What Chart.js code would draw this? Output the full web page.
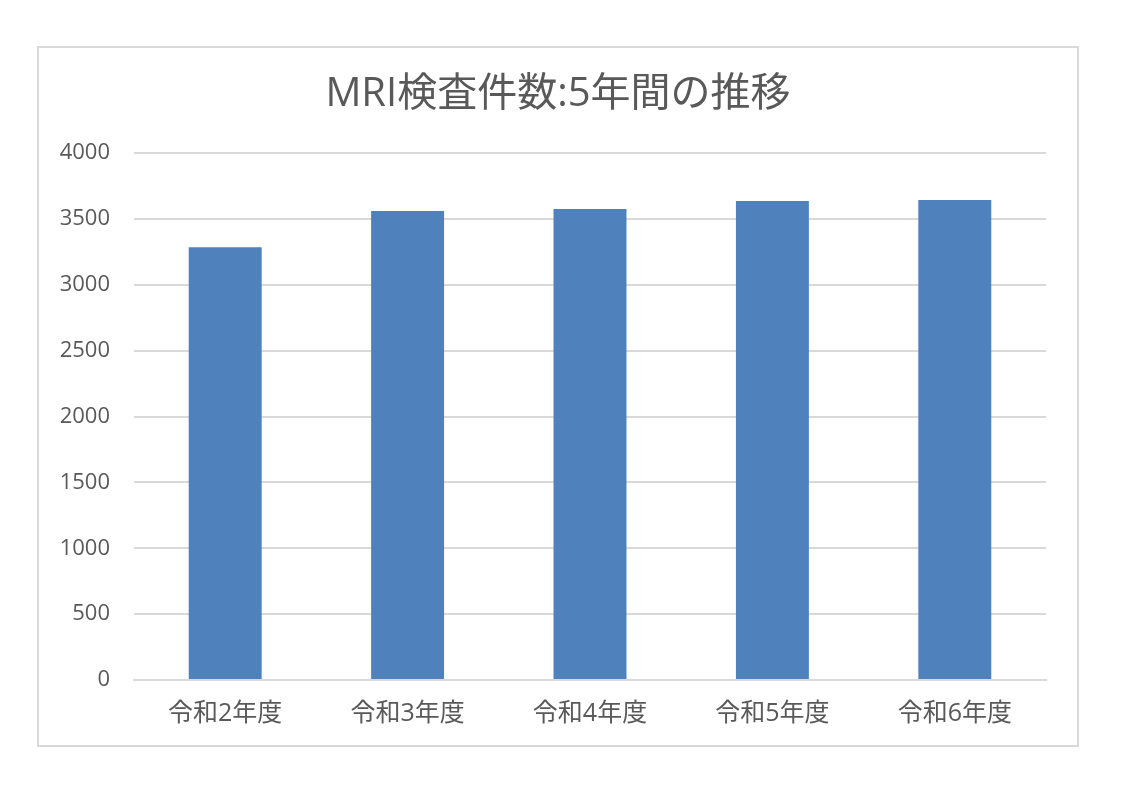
<!DOCTYPE html>
<html>
<head>
<meta charset="utf-8">
<script src="https://cdn.jsdelivr.net/npm/chart.js@4"></script>
<style>
  html, body { margin: 0; padding: 0; background: #fff; }
  body { width: 1123px; height: 794px; position: relative; }
  #box {
    position: absolute; left: 37px; top: 46px;
    width: 1038px; height: 697px;
    border: 2px solid #d9d9d9; box-sizing: content-box;
  }
  #box canvas { display: block; }
</style>
</head>
<body>
<div id="box"><canvas id="chart" width="1038" height="697"></canvas></div>
<script>
const categories = ["令和2年度", "令和3年度", "令和4年度", "令和5年度", "令和6年度"];
const counts = [3285, 3560, 3575, 3635, 3643];
const yTicks = [0, 500, 1000, 1500, 2000, 2500, 3000, 3500, 4000];
const chartTitle = "MRI検査件数:5年間の推移";

const fontFamily = '"Open Sans", "Noto Sans CJK JP", sans-serif';
const textColor = "#595959";

const ctx = document.getElementById("chart").getContext("2d");
new Chart(ctx, {
    type: "bar",
    data: {
        labels: categories,
        datasets: [
            {
                label: "件数",
                data: counts,
                backgroundColor: "#4f81bd",
                barPercentage: 0.4,
                categoryPercentage: 1.0,
            },
        ],
    },
    options: {
        responsive: false,
        animation: false,
        layout: { padding: 0 },
        plugins: {
            legend: { display: false },
            tooltip: { enabled: false },
            title: {
                display: true,
                text: chartTitle,
                color: textColor,
                font: { family: fontFamily, size: 40, weight: "normal", lineHeight: 1.2 },
                padding: { top: 23, bottom: 34 },
            },
        },
        scales: {
            x: {
                grid: { display: false, drawTicks: false },
                border: { display: true, color: "#d9d9d9", width: 2 },
                ticks: {
                    color: textColor,
                    font: { family: fontFamily, size: 25 },
                    padding: 19,
                    maxRotation: 0,
                },
                afterFit: (scale) => { scale.height = 65; },
            },
            y: {
                min: 0,
                max: 4000,
                afterBuildTicks: (scale) => {
                    scale.ticks = yTicks.map((v) => ({ value: v }));
                },
                grid: { color: "#d9d9d9", lineWidth: 2, drawTicks: false },
                border: { display: false },
                ticks: {
                    color: textColor,
                    font: { family: fontFamily, size: 22 },
                    padding: 24,
                    callback: (value) => String(value),
                },
                afterFit: (scale) => { scale.width = 95; },
            },
            // empty right axis, only reserves the right margin so the title stays centred on the box
            yRight: {
                position: "right",
                grid: { display: false },
                border: { display: false },
                ticks: { display: false },
                afterFit: (scale) => { scale.width = 31; },
            },
        },
    },
});
</script>
</body>
</html>
